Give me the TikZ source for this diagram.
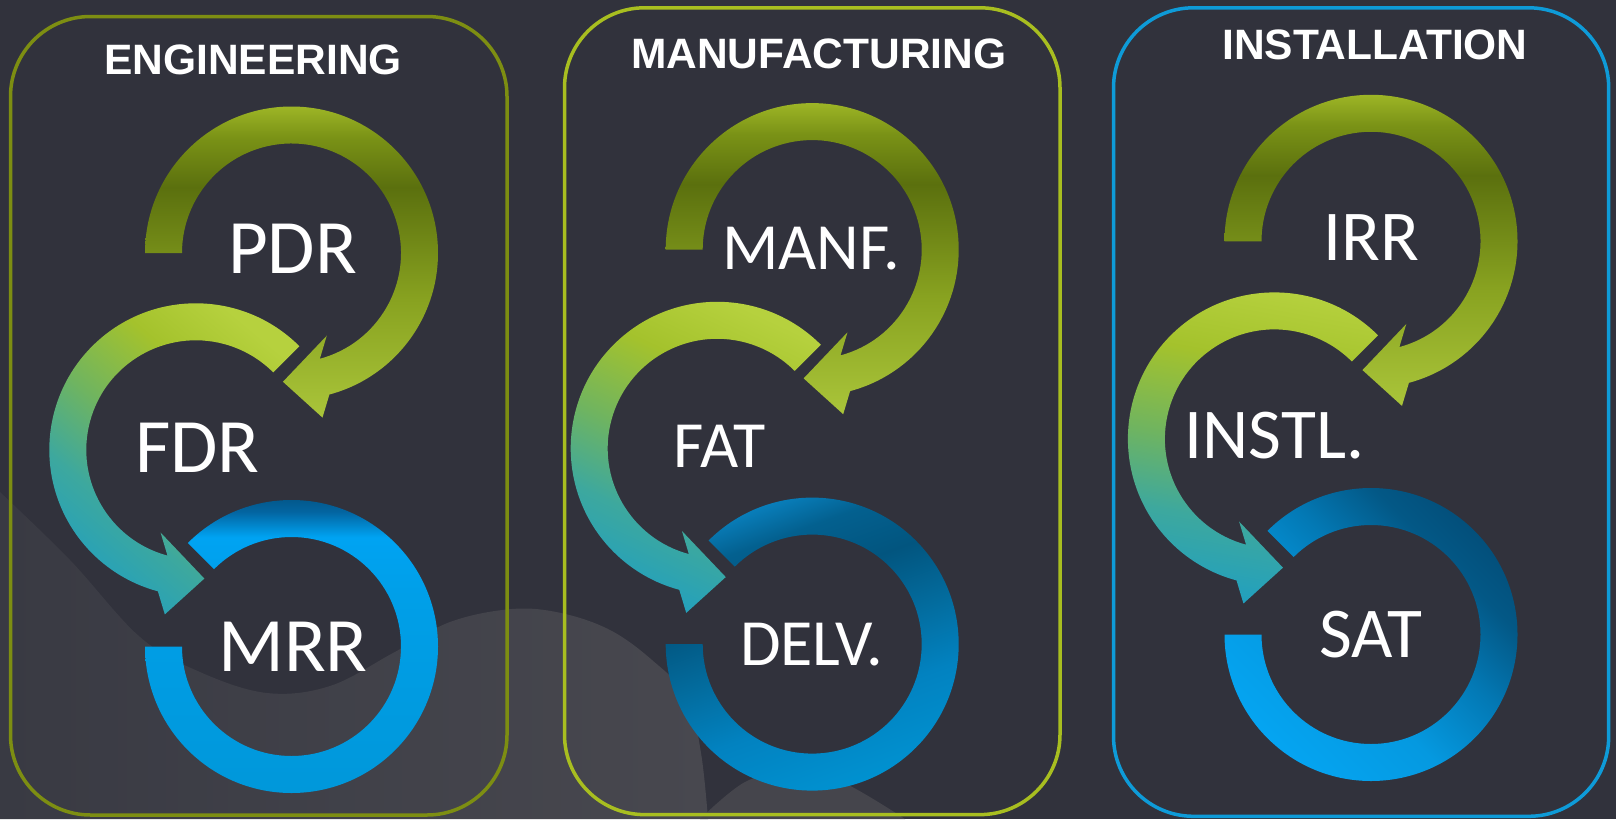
\documentclass[tikz,border=0pt]{standalone}
\usepackage{fontspec}
\setmainfont{Carlito}
\newfontfamily\headfont{Liberation Sans}
\usetikzlibrary{calc, positioning}

\definecolor{bgdark}{HTML}{31323C}
\definecolor{wavelo}{HTML}{393A43}
\definecolor{wavehi}{HTML}{48484F}
\definecolor{engline}{HTML}{7D8E12}
\definecolor{manline}{HTML}{A8BE20}
\definecolor{instline}{HTML}{0E9BD8}
\definecolor{olA}{HTML}{AAC53A}
\definecolor{olB}{HTML}{88A220}
\definecolor{olC}{HTML}{5B700E}
\definecolor{olD}{HTML}{7A9216}
\definecolor{olE}{HTML}{9DB526}
\definecolor{limA}{HTML}{22A0BE}
\definecolor{limB}{HTML}{3DA89E}
\definecolor{limC}{HTML}{6FB460}
\definecolor{limD}{HTML}{A4C22C}
\definecolor{limE}{HTML}{B6D13E}
\definecolor{blA}{HTML}{0097D9}
\definecolor{blB}{HTML}{009FE8}
\definecolor{blC}{HTML}{00A3F2}
\definecolor{blD}{HTML}{0364A0}
\definecolor{blE}{HTML}{034C75}
\definecolor{dpA}{HTML}{0094D3}
\definecolor{dpB}{HTML}{0282C0}
\definecolor{dpC}{HTML}{036C9E}
\definecolor{dpD}{HTML}{02557F}
\definecolor{dpE}{HTML}{03608F}
\definecolor{dpF}{HTML}{0A86C6}
\definecolor{skA}{HTML}{05A5F2}
\definecolor{skB}{HTML}{0599E0}
\definecolor{skC}{HTML}{0379B5}
\definecolor{skD}{HTML}{035886}
\definecolor{skE}{HTML}{034C77}

\pgfdeclareverticalshading{olivering}{100bp}{color(0bp)=(olA); color(25bp)=(olA); color(44bp)=(olB); color(62bp)=(olC); color(70bp)=(olD); color(75bp)=(olE); color(100bp)=(olE)}
\pgfdeclareverticalshading{limering}{100bp}{color(0bp)=(limA); color(25bp)=(limA); color(37bp)=(limB); color(49bp)=(limC); color(63bp)=(limD); color(75bp)=(limE); color(100bp)=(limE)}
\pgfdeclareverticalshading{bluering}{100bp}{color(0bp)=(blA); color(25bp)=(blA); color(58bp)=(blB); color(67bp)=(blC); color(71bp)=(blD); color(75bp)=(blE); color(100bp)=(blE)}
\pgfdeclareverticalshading{deepring}{100bp}{color(0bp)=(dpA); color(25bp)=(dpA); color(40bp)=(dpB); color(50bp)=(dpC); color(60bp)=(dpD); color(68bp)=(dpE); color(75bp)=(dpF); color(100bp)=(dpF)}
\pgfdeclareverticalshading{skyring}{100bp}{color(0bp)=(skA); color(25bp)=(skA); color(42bp)=(skB); color(55bp)=(skC); color(66bp)=(skD); color(75bp)=(skE); color(100bp)=(skE)}

\newcommand{\ringarrow}[5]{%
  \pgfmathsetmacro{\wingangle}{#3+(#4)*18}
  \pgfmathsetmacro{\wingback}{\wingangle+180}
  \pgfmathsetmacro{\tipangle}{#3+(#4)*98}
  \shade[#5] ($(#1)+(#2:146.5)$) arc[start angle=#2, end angle=#3, radius=146.5]
    -- ($(#1)+(#3:128)+(\wingangle:41)$)
    -- ($(#1)+(#3:128)+(\tipangle:42)$)
    -- ($(#1)+(#3:128)+(\wingback:41)$)
    -- ($(#1)+(#3:109.5)$) arc[start angle=#3, end angle=#2, radius=109.5] -- cycle;}
\newcommand{\ringopen}[4]{%
  \shade[#4] ($(#1)+(#2:146.5)$) arc[start angle=#2, end angle=#3, radius=146.5]
    -- ($(#1)+(#3:109.5)$) arc[start angle=#3, end angle=#2, radius=109.5] -- cycle;}

\begin{document}
\begin{tikzpicture}[x=1pt, y=-1pt, every node/.style={text=white, inner sep=0pt},
    panel/.style={draw=#1, line width=3.5pt, rounded corners=80pt},
    heading/.style={font=\headfont\bfseries\fontsize{42.5}{42.5}\selectfont},
    stage/.style={font=\fontsize{#1}{#1}\selectfont}]

  \useasboundingbox (0,0) rectangle (1616,819);
  \fill[bgdark] (0,0) rectangle (1616,819);
  \shade[left color=wavelo, right color=wavehi] plot[smooth, tension=0.6] coordinates {(0,492) (70,560) (140,637) (200,672) (267,693) (330,686) (393,653) (450,622) (512,609) (561,613) (610,630) (652,660) (687,697) (701,753) (708,819)} -- (0,819) -- cycle;
  \fill[wavehi!85!bgdark] plot[smooth, tension=0.6] coordinates {(700,819) (745,782) (790,772) (840,781) (905,819)} -- cycle;

  \node[panel=engline, minimum width=496.5pt, minimum height=798.5pt] (engbox) at (258.75,415.75) {};
  \node[panel=manline, minimum width=495.5pt, minimum height=806.8pt] (manbox) at (812.25,411.2) {};
  \node[panel=instline, minimum width=495.2pt, minimum height=808.5pt] (instbox) at (1361.1,412.05) {};

  \node[heading] (engtitle) at (253,59.5) {ENGINEERING};
  \node[heading] (mantitle) at (818.8,54) {MANUFACTURING};
  \node[heading] (insttitle) at (1374.9,44.4) {INSTALLATION};

  \coordinate (pdr) at (291.5,253);
  \coordinate (fdr) at (195.8,449.8);
  \coordinate (mrr) at (291.5,646.5);
  \ringarrow{pdr}{180}{435}{1}{shading=olivering}
  \ringarrow{fdr}{315}{105}{-1}{shading=limering, shading angle=-40}
  \ringopen{mrr}{225}{540}{shading=bluering}

  \coordinate (manf) at (812.2,249.6);
  \coordinate (fat) at (717.2,448.3);
  \coordinate (delv) at (812.2,644.1);
  \ringarrow{manf}{180}{435}{1}{shading=olivering}
  \ringarrow{fat}{315}{105}{-1}{shading=limering, shading angle=-25}
  \ringopen{delv}{225}{540}{shading=deepring, shading angle=20}

  \coordinate (irr) at (1371,241.3);
  \coordinate (instl) at (1274.4,438.9);
  \coordinate (sat) at (1371,634.5);
  \ringarrow{irr}{180}{435}{1}{shading=olivering}
  \ringarrow{instl}{315}{105}{-1}{shading=limering, shading angle=-10}
  \ringopen{sat}{225}{540}{shading=skyring, shading angle=-45}

  \node[stage=77] (pdrtext) at (292.5,249) {PDR};
  \node[stage=77] (fdrtext) at (197.5,448) {FDR};
  \node[stage=77] (mrrtext) at (293,646.7) {MRR};
  \node[stage=66] (manftext) at (811.3,248.5) {MANF.};
  \node[stage=66] (fattext) at (719.3,446) {FAT};
  \node[stage=66] (delvtext) at (811.7,645) {DELV.};
  \node[stage=71.5] (irrtext) at (1371,238) {IRR};
  \node[stage=71.5] (instltext) at (1274.5,436) {INSTL.};
  \node[stage=71.5] (sattext) at (1370.6,635) {SAT};
\end{tikzpicture}
\end{document}
